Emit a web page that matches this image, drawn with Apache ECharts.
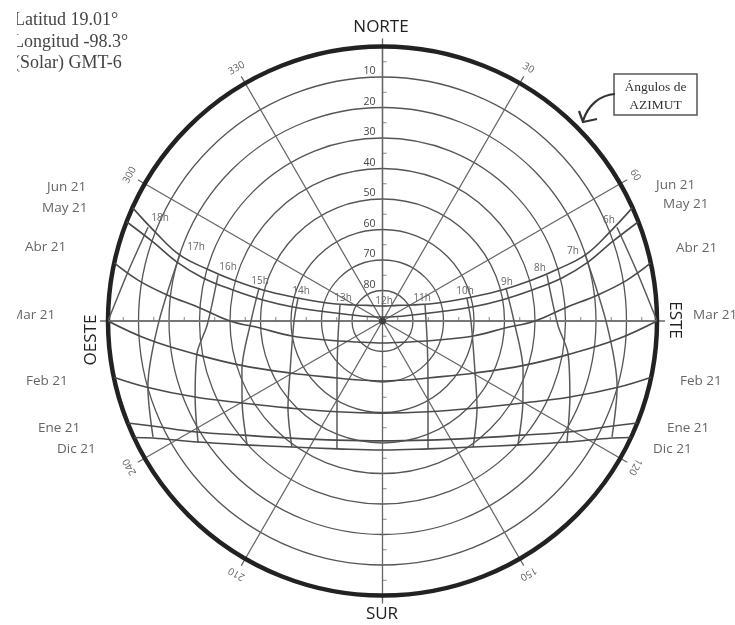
<!DOCTYPE html>
<html>
<head>
<meta charset="utf-8">
<style>
  html, body { margin: 0; padding: 0; background: #fff; }
  #main { width: 735px; height: 625px; }
</style>
<script src="https://cdn.jsdelivr.net/npm/echarts@6/dist/echarts.min.js"></script>
</head>
<body>
<div id="main"></div>
<script>
// curvas de fecha: altitud / azimut
var junAlt = [0, 9.9, 20.2, 30, 39.2, 49.5, 59.6, 70.9, 79, 83, 85.1, 83, 79, 70.9, 59.6, 49.5, 39.2, 30, 20.2, 9.9, 0];
var junAz = [294.4, 291.4, 288, 286.5, 285.3, 284.5, 285, 288, 298.5, 317, 0, 43, 61.5, 72, 75, 75.5, 74.7, 73.5, 72, 68.6, 65.6];
var mayAlt = [0, 10.4, 19.9, 29.5, 39.9, 50.2, 60.3, 71.6, 80.1, 85, 88.7, 85, 80.1, 71.6, 60.3, 50.2, 39.9, 29.5, 19.9, 10.4, 0];
var mayAz = [291.2, 289, 286, 283.5, 281.7, 280, 278.9, 279.2, 281.5, 287.2, 0, 72.8, 78.5, 80.8, 81.1, 80, 78.3, 76.5, 74, 71, 68.8];
var abrAlt = [0, 8.7, 18.9, 30, 40, 49.8, 59.9, 70.8, 79.2, 82.8, 79.2, 70.8, 59.9, 49.8, 40, 30, 18.9, 8.7, 0];
var abrAz = [282.2, 279.5, 276.9, 274.1, 270, 266.7, 260.6, 251.1, 230.5, 180, 129.5, 108.9, 99.4, 93.3, 90, 85.9, 83.1, 80.5, 77.8];
var marAlt = [0, 13.5, 28.5, 41.1, 55.2, 66.1, 69.3, 70.3, 69.3, 66.1, 55.2, 41.1, 28.5, 13.5, 0];
var marAz = [270, 265.3, 259.6, 252.8, 240.7, 218.6, 200.9, 180, 159.1, 141.4, 119.3, 107.2, 100.4, 94.7, 90];
var febAlt = [0, 9.8, 23.7, 36.7, 47.9, 56.7, 59.8, 56.7, 47.9, 36.7, 23.7, 9.8, 0];
var febAz = [258.2, 254.3, 247.9, 239.7, 227.4, 206.6, 180, 153.4, 132.6, 120.3, 112.1, 105.7, 101.8];
var eneAlt = [0, 7, 19.1, 30.9, 41.1, 48.2, 50.7, 48.2, 41.1, 30.9, 19.1, 7, 0];
var eneAz = [248.2, 245.5, 239.1, 230.7, 218.3, 200.9, 180, 159.1, 141.7, 129.3, 120.9, 114.5, 111.8];
var dicAlt = [0, 5.5, 17.7, 29.3, 39.1, 45.5, 47.7, 45.5, 39.1, 29.3, 17.7, 5.5, 0];
var dicAz = [244.9, 243, 236.7, 228, 215.7, 199.6, 180, 160.4, 144.3, 132, 123.3, 117, 115.1];

// lineas de hora
var alt6 = [7.2, 5, 0];
var az18 = [291.8, 280.9, 270];
var az6 = [68.2, 79.1, 90];
var alt7 = [20.1, 16.4, 10.1, 5.7];
var az17 = [288.3, 269, 254.3, 243.2];
var az7 = [71.7, 91, 105.7, 116.8];
var alt8 = [34, 32.5, 28.3, 23.7, 17.5];
var az16 = [285.6, 268.7, 260.2, 247.9, 236.5];
var az8 = [74.4, 91.3, 99.8, 112.1, 123.5];
var alt9 = [48.1, 46.9, 41.2, 36.7, 29.8];
var az15 = [285, 270, 250.8, 239.7, 227.5];
var az9 = [75, 90, 109.2, 120.3, 132.5];
var alt10 = [61.3, 61, 55.2, 47.9, 39.1];
var az14 = [285.2, 270, 240.7, 227.4, 215.7];
var az10 = [74.8, 90, 119.3, 132.6, 144.3];
var alt11 = [75.1, 74.1, 66.1, 56.7, 45.5];
var az13 = [290.6, 246.9, 218.6, 206.6, 199.6];
var az11 = [69.4, 113.1, 141.4, 153.4, 160.4];

// etiquetas
var azimuthLabels = [30, 60, 120, 150, 210, 240, 300, 330];
var midTicks = [5, 15, 25, 35, 45, 55, 65, 75, 85];
var dateLabels = ['Jun 21', 'May 21', 'Abr 21', 'Mar 21', 'Feb 21', 'Ene 21', 'Dic 21'];

var chart = echarts.init(document.getElementById('main'));

var toPoints = function (alt, az) {
    var pts = [];
    for (var i = 0; i < alt.length; i++) {
        pts.push([alt[i], az[i]]);
    }
    return pts;
};

var curve = function (alt, az) {
    return {
        type: 'line', coordinateSystem: 'polar', data: toPoints(alt, az),
        showSymbol: false, smooth: 0.4, clip: false, silent: true, z: 4,
        lineStyle: { color: '#4a4a4a', width: 1.6 }
    };
};
var hourLine = function (alt, az) {
    return {
        type: 'line', coordinateSystem: 'polar', data: toPoints(alt, az),
        showSymbol: false, smooth: 0.3, clip: false, silent: true, z: 3,
        lineStyle: { color: '#5a5a5a', width: 1.5 }
    };
};
var tickSeries = function (az, size, offset) {
    return {
        type: 'scatter', coordinateSystem: 'polar', clip: false, silent: true, z: 3,
        data: midTicks.map(function (a) { return [a, az]; }),
        symbol: 'rect', symbolSize: size, symbolOffset: offset,
        itemStyle: { color: '#666' }
    };
};

var series = [
    curve(junAlt, junAz), curve(mayAlt, mayAz), curve(abrAlt, abrAz), curve(marAlt, marAz),
    curve(febAlt, febAz), curve(eneAlt, eneAz), curve(dicAlt, dicAz),
    hourLine(alt6, az18), hourLine(alt6, az6), hourLine(alt7, az17), hourLine(alt7, az7),
    hourLine(alt8, az16), hourLine(alt8, az8), hourLine(alt9, az15), hourLine(alt9, az9),
    hourLine(alt10, az14), hourLine(alt10, az10), hourLine(alt11, az13), hourLine(alt11, az11),
    tickSeries(0, [4, 1], [2, 0]), tickSeries(180, [4, 1], [2, 0]),
    tickSeries(90, [1, 4], [0, -2]), tickSeries(270, [1, 4], [0, -2]),
    // ejes E-O y centro
    {
        type: 'line', coordinateSystem: 'polar', data: [[-3, 270], [90, 270], [-3, 90]],
        showSymbol: false, clip: false, silent: true, z: 2,
        lineStyle: { color: '#777', width: 2 }
    },
    {
        type: 'scatter', coordinateSystem: 'polar', data: [[90, 0]], symbolSize: 7, silent: true, z: 6,
        itemStyle: { color: '#333' }
    },
    // angulos de azimut
    {
        type: 'scatter', coordinateSystem: 'polar', clip: false, silent: true, symbolSize: 0, z: 5,
        data: azimuthLabels.map(function (a) {
            return {
                value: [-5.7, a],
                label: {
                    show: true, position: 'inside', formatter: String(a), rotate: -a,
                    fontFamily: 'Open Sans', fontSize: 10, color: '#333'
                }
            };
        })
    }
];

var txt = function (s, x, y, o) {
    var style = { text: s, x: x, y: y, fill: '#666', font: '13.5px "Open Sans"', textAlign: 'left', textVerticalAlign: 'middle' };
    for (var k in o) { style[k] = o[k]; }
    return { type: 'text', style: style, z: 10, silent: true };
};
var rotTxt = function (s, x, y, rot) {
    return {
        type: 'text', x: x, y: y, rotation: rot, z: 10, silent: true,
        style: { text: s, fill: '#222', font: '17px "Open Sans"', textAlign: 'center', textVerticalAlign: 'middle' }
    };
};
var hourTxt = function (s, x, y) {
    return txt(s, x, y, { font: '10px "Open Sans"', textAlign: 'center', fill: '#666' });
};
var serif = { font: '18px "Liberation Serif"', fill: '#444' };

var graphic = [
    txt('Latitud 19.01°', 14, 20, serif),
    txt('Longitud -98.3°', 13, 42, serif),
    txt('(Solar) GMT-6', 14, 63, serif),
    { type: 'rect', shape: { x: 0, y: 0, width: 17, height: 340 }, style: { fill: '#fff' }, z: 11, silent: true },
    rotTxt('NORTE', 381, 27, 0),
    rotTxt('SUR', 382, 614, 0),
    rotTxt('OESTE', 91, 340, Math.PI / 2),
    rotTxt('ESTE', 675, 320, -Math.PI / 2),
    txt(dateLabels[0], 47, 187), txt(dateLabels[1], 42, 208), txt(dateLabels[2], 25, 247),
    txt(dateLabels[3], 11, 315), txt(dateLabels[4], 26, 381), txt(dateLabels[5], 38, 428), txt(dateLabels[6], 57, 449),
    txt(dateLabels[0], 656, 185), txt(dateLabels[1], 663, 204), txt(dateLabels[2], 676, 248),
    txt(dateLabels[3], 693, 315), txt(dateLabels[4], 680, 381), txt(dateLabels[5], 667, 428), txt(dateLabels[6], 653, 449),
    hourTxt('18h', 160, 218), hourTxt('17h', 196, 247), hourTxt('16h', 228, 267), hourTxt('15h', 260, 281),
    hourTxt('14h', 301, 291), hourTxt('13h', 343, 298), hourTxt('12h', 384, 301), hourTxt('11h', 422, 298),
    hourTxt('10h', 465, 291), hourTxt('9h', 507, 282), hourTxt('8h', 540, 268), hourTxt('7h', 573, 251), hourTxt('6h', 609, 220),
    // recuadro y flecha
    {
        type: 'rect', shape: { x: 614, y: 74, width: 83, height: 41 }, z: 10, silent: true,
        style: { fill: '#fff', stroke: '#555', lineWidth: 1.5 }
    },
    txt('Ángulos de', 655.5, 87, { font: '13.5px "Liberation Serif"', fill: '#333', textAlign: 'center' }),
    txt('AZIMUT', 655.5, 105, { font: '13.5px "Liberation Serif"', fill: '#333', textAlign: 'center' }),
    {
        type: 'bezierCurve', z: 10, silent: true,
        shape: { x1: 615, y1: 94, x2: 583, y2: 121, cpx1: 600, cpy1: 95, cpx2: 588, cpy2: 105 },
        style: { fill: null, stroke: '#333', lineWidth: 2.2 }
    },
    {
        type: 'polyline', z: 10, silent: true,
        shape: { points: [[579, 111], [583, 122], [597, 119]] },
        style: { fill: null, stroke: '#333', lineWidth: 2.2 }
    }
];

var option = {
    backgroundColor: '#fff',
    animation: false,
    polar: { center: [382.5, 321], radius: 274.5 },
    angleAxis: {
        type: 'value', min: 0, max: 360, interval: 30, startAngle: 90, clockwise: true,
        axisLine: { lineStyle: { color: '#222', width: 4.5 } },
        axisTick: { show: true, length: 8, lineStyle: { color: '#666', width: 1.3 } },
        axisLabel: { show: false },
        splitLine: { show: true, lineStyle: { color: '#666', width: 1.3 } },
        minorTick: { show: false }
    },
    radiusAxis: {
        type: 'value', min: 0, max: 90, interval: 10, inverse: true,
        axisLine: { show: true, lineStyle: { color: '#666', width: 1.3 } },
        axisTick: { show: false },
        axisLabel: {
            show: true, margin: 7, verticalAlign: 'bottom', fontFamily: 'Open Sans', fontSize: 10.5, color: '#444',
            formatter: function (v) { return (v === 0 || v === 90) ? '' : String(v); }
        },
        splitLine: { show: true, lineStyle: { color: '#555', width: 1.3 } }
    },
    series: series,
    graphic: graphic
};

chart.setOption(option);
</script>
</body>
</html>
